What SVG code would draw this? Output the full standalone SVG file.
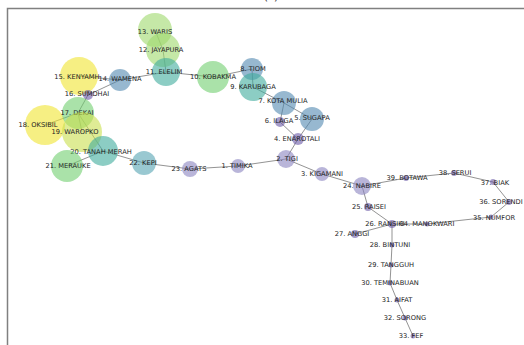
<svg xmlns="http://www.w3.org/2000/svg" width="524" height="345" viewBox="0 0 524 345">
<style>
.e{stroke:#555;stroke-width:0.8;fill:none;opacity:0.8}
text{font-family:"DejaVu Sans",sans-serif;font-size:6.7px;fill:#222;text-anchor:middle;dominant-baseline:central}
circle{opacity:0.6}
.pu{fill:#6a5aa6}
.lv{fill:#8a83c0}
.bl{fill:#5289b0}
.tl{fill:#3fab9c}
.tb{fill:#55a3b2}
.gr{fill:#72cf70}
.lg{fill:#9ed86c}
.ye{fill:#f0e530}
.yg{fill:#c9e04f}
</style>
<rect x="0" y="0" width="524" height="345" fill="#fff"/>
<text x="271" y="-4" style="font-size:11px">(c)</text>
<rect x="7.5" y="8.5" width="530" height="350" fill="#fff" stroke="#808080" stroke-width="1.5"/>
<g id="edges">
<line class="e" x1="155" y1="30" x2="163" y2="50"/>
<line class="e" x1="163" y1="50" x2="166" y2="72"/>
<line class="e" x1="166" y1="72" x2="213" y2="77"/>
<line class="e" x1="166" y1="72" x2="120" y2="80"/>
<line class="e" x1="120" y1="80" x2="88" y2="95"/>
<line class="e" x1="79" y1="76" x2="120" y2="80"/>
<line class="e" x1="88" y1="95" x2="78" y2="113"/>
<line class="e" x1="78" y1="113" x2="103" y2="151"/>
<line class="e" x1="45" y1="125" x2="78" y2="113"/>
<line class="e" x1="82" y1="132" x2="78" y2="113"/>
<line class="e" x1="67" y1="166" x2="103" y2="151"/>
<line class="e" x1="103" y1="151" x2="144" y2="163"/>
<line class="e" x1="144" y1="163" x2="190" y2="169"/>
<line class="e" x1="190" y1="169" x2="238" y2="166"/>
<line class="e" x1="238" y1="166" x2="286" y2="159"/>
<line class="e" x1="286" y1="159" x2="298" y2="139"/>
<line class="e" x1="298" y1="139" x2="280" y2="122"/>
<line class="e" x1="298" y1="139" x2="312" y2="119"/>
<line class="e" x1="280" y1="122" x2="284" y2="103"/>
<line class="e" x1="284" y1="103" x2="312" y2="119"/>
<line class="e" x1="253" y1="87" x2="284" y2="103"/>
<line class="e" x1="213" y1="77" x2="252" y2="69"/>
<line class="e" x1="252" y1="69" x2="253" y2="87"/>
<line class="e" x1="286" y1="159" x2="322" y2="174"/>
<line class="e" x1="322" y1="174" x2="362" y2="186"/>
<line class="e" x1="362" y1="186" x2="406" y2="178"/>
<line class="e" x1="406" y1="178" x2="454" y2="173"/>
<line class="e" x1="454" y1="173" x2="493" y2="182"/>
<line class="e" x1="493" y1="182" x2="509" y2="202"/>
<line class="e" x1="509" y1="202" x2="491" y2="217"/>
<line class="e" x1="491" y1="217" x2="427" y2="224"/>
<line class="e" x1="427" y1="224" x2="392" y2="224"/>
<line class="e" x1="362" y1="186" x2="368" y2="207"/>
<line class="e" x1="368" y1="207" x2="392" y2="224"/>
<line class="e" x1="392" y1="224" x2="355" y2="234"/>
<line class="e" x1="392" y1="224" x2="392" y2="245"/>
<line class="e" x1="392" y1="245" x2="391" y2="265"/>
<line class="e" x1="391" y1="265" x2="390" y2="283"/>
<line class="e" x1="390" y1="283" x2="397" y2="300"/>
<line class="e" x1="397" y1="300" x2="405" y2="318"/>
<line class="e" x1="405" y1="318" x2="413" y2="336"/>
</g>
<g id="n13"><circle class="lg" cx="155" cy="30" r="17"/><text x="155" y="32">13. WARIS</text></g>
<g id="n12"><circle class="lg" cx="163" cy="50" r="17"/><text x="161" y="50">12. JAYAPURA</text></g>
<g id="n11"><circle class="tl" cx="166" cy="72" r="14"/><text x="164" y="72">11. ELELIM</text></g>
<g id="n10"><circle class="gr" cx="213" cy="77" r="16"/><text x="213" y="77">10. KOBAKMA</text></g>
<g id="n8"><circle class="bl" cx="252" cy="69" r="11"/><text x="253" y="69">8. TIOM</text></g>
<g id="n9"><circle class="tl" cx="253" cy="87" r="14"/><text x="253" y="87">9. KARUBAGA</text></g>
<g id="n7"><circle class="bl" cx="284" cy="103" r="12"/><text x="283" y="101">7. KOTA MULIA</text></g>
<g id="n5"><circle class="bl" cx="312" cy="119" r="12"/><text x="312" y="118">5. SUGAPA</text></g>
<g id="n6"><circle class="pu" cx="280" cy="122" r="5"/><text x="279" y="121">6. ILAGA</text></g>
<g id="n4"><circle class="pu" cx="298" cy="139" r="6"/><text x="297" y="139">4. ENAROTALI</text></g>
<g id="n2"><circle class="lv" cx="286" cy="159" r="9"/><text x="287" y="159">2. TIGI</text></g>
<g id="n1"><circle class="lv" cx="238" cy="166" r="7"/><text x="237" y="166">1. TIMIKA</text></g>
<g id="n23"><circle class="lv" cx="190" cy="169" r="8"/><text x="189" y="169">23. AGATS</text></g>
<g id="n22"><circle class="tb" cx="144" cy="163" r="12"/><text x="143" y="163">22. KEPI</text></g>
<g id="n3"><circle class="lv" cx="322" cy="174" r="7"/><text x="322" y="174">3. KIGAMANI</text></g>
<g id="n24"><circle class="lv" cx="362" cy="186" r="9"/><text x="362" y="186">24. NABIRE</text></g>
<g id="n39"><circle class="pu" cx="406" cy="178" r="3"/><text x="407" y="178">39. BOTAWA</text></g>
<g id="n38"><circle class="pu" cx="454" cy="173" r="3"/><text x="455" y="173">38. SERUI</text></g>
<g id="n37"><circle class="pu" cx="493" cy="182" r="3"/><text x="495" y="183">37. BIAK</text></g>
<g id="n36"><circle class="pu" cx="509" cy="202" r="3"/><text x="501" y="202">36. SORENDI</text></g>
<g id="n35"><circle class="pu" cx="491" cy="217" r="2.5"/><text x="494" y="218">35. NUMFOR</text></g>
<g id="n34"><circle class="pu" cx="427" cy="224" r="2.5"/><text x="427" y="224">34. MANOKWARI</text></g>
<g id="n26"><circle class="pu" cx="392" cy="224" r="4"/><text x="385" y="224">26. RANSIKI</text></g>
<g id="n25"><circle class="pu" cx="368" cy="207" r="4"/><text x="369" y="207">25. RAISEI</text></g>
<g id="n27"><circle class="pu" cx="355" cy="234" r="4"/><text x="352" y="234">27. ANGGI</text></g>
<g id="n28"><circle class="pu" cx="392" cy="245" r="2.5"/><text x="390" y="245">28. BINTUNI</text></g>
<g id="n29"><circle class="pu" cx="391" cy="265" r="2.5"/><text x="391" y="265">29. TANGGUH</text></g>
<g id="n30"><circle class="pu" cx="390" cy="283" r="2.5"/><text x="390" y="283">30. TEMINABUAN</text></g>
<g id="n31"><circle class="pu" cx="397" cy="300" r="2.5"/><text x="397" y="300">31. AIFAT</text></g>
<g id="n32"><circle class="pu" cx="405" cy="318" r="2.5"/><text x="405" y="318">32. SORONG</text></g>
<g id="n33"><circle class="pu" cx="413" cy="336" r="2.5"/><text x="411" y="336">33. FEF</text></g>
<g id="n14"><circle class="bl" cx="120" cy="80" r="11"/><text x="120" y="79">14. WAMENA</text></g>
<g id="n15"><circle class="ye" cx="79" cy="76" r="19"/><text x="77" y="77">15. KENYAMH</text></g>
<g id="n16"><circle class="pu" cx="88" cy="95" r="5"/><text x="87" y="94">16. SUMDHAI</text></g>
<g id="n18"><circle class="ye" cx="45" cy="125" r="20"/><text x="38" y="125">18. OKSIBIL</text></g>
<g id="n17"><circle class="gr" cx="78" cy="113" r="16"/><text x="77" y="113">17. DEKAI</text></g>
<g id="n19"><circle class="yg" cx="82" cy="132" r="20"/><text x="75" y="132">19. WAROPKO</text></g>
<g id="n20"><circle class="tl" cx="103" cy="151" r="15"/><text x="101" y="152">20. TANAH MERAH</text></g>
<g id="n21"><circle class="gr" cx="67" cy="166" r="16"/><text x="68" y="166">21. MERAUKE</text></g>
</svg>
